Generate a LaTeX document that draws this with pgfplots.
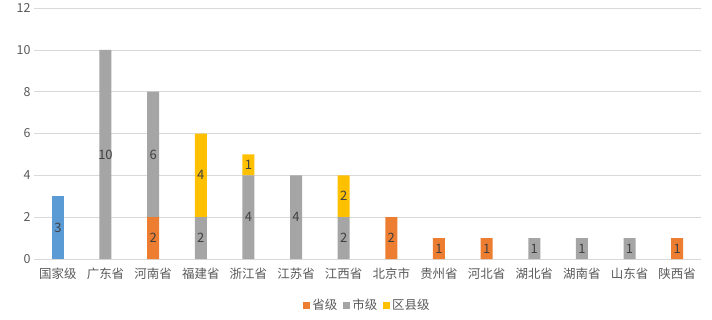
\documentclass[border=0pt]{standalone}
\usepackage{pgfplots}
\pgfplotsset{compat=1.18}
\usepackage{fontspec}
\setmainfont{Noto Sans CJK SC}
\definecolor{cblue}{HTML}{5B9BD5}
\definecolor{corange}{HTML}{ED7D31}
\definecolor{cgray}{HTML}{A5A5A5}
\definecolor{cyellow}{HTML}{FFC000}
\definecolor{ctext}{HTML}{595959}
\definecolor{clabel}{HTML}{404040}
\definecolor{cgrid}{HTML}{D9D9D9}
\begin{document}
\begin{tikzpicture}
\begin{axis}[
  name=ax,
  scale only axis,
  x=47.6bp, y=20.9bp,
  xmin=-0.5, xmax=13.5, ymin=0, ymax=12,
  ybar stacked, bar width=12bp,
  enlargelimits=false,
  axis lines*=left,
  y axis line style={draw=none},
  x axis line style={draw=cgrid, line width=0.8pt},
  ymajorgrids, grid style={draw=cgrid, line width=0.6pt},
  major tick length=0pt,
  ytick={0,2,4,6,8,10,12},
  xtick={0,...,13},
  xticklabels={国家级,广东省,河南省,福建省,浙江省,江苏省,江西省,北京市,贵州省,河北省,湖北省,湖南省,山东省,陕西省},
  /pgf/number format/assume math mode=true,
  tick label style={font=\fontsize{12.5}{14}\selectfont, text=ctext},
  xticklabel style={yshift=-5bp},
  yticklabel style={xshift=0bp},
  nodes near coords={\pgfmathfloatifflags{\pgfplotspointmeta}{0}{}{\pgfmathprintnumber{\pgfplotspointmeta}}},
  nodes near coords style={font=\fontsize{13}{14}\selectfont, text=clabel, anchor=center},
  legend columns=-1,
  legend style={draw=none, at={(0.5,-0.185)}, anchor=center, font=\fontsize{12.5}{14}\selectfont, text=ctext, /tikz/every even column/.append style={column sep=4bp}},
  legend image code/.code={\fill[#1] (0bp,-3.5bp) rectangle (7bp,3.5bp);},
]
\addplot[fill=corange, draw=none] coordinates {(0,0) (1,0) (2,2) (3,0) (4,0) (5,0) (6,0) (7,2) (8,1) (9,1) (10,0) (11,0) (12,0) (13,1)};
\addplot[fill=cgray, draw=none] coordinates {(0,0) (1,10) (2,6) (3,2) (4,4) (5,4) (6,2) (7,0) (8,0) (9,0) (10,1) (11,1) (12,1) (13,0)};
\addplot[fill=cyellow, draw=none] coordinates {(0,0) (1,0) (2,0) (3,4) (4,1) (5,0) (6,2) (7,0) (8,0) (9,0) (10,0) (11,0) (12,0) (13,0)};
\addplot[fill=cblue, draw=none] coordinates {(0,3) (1,0) (2,0) (3,0) (4,0) (5,0) (6,0) (7,0) (8,0) (9,0) (10,0) (11,0) (12,0) (13,0)};
\legend{省级,市级,区县级}
\end{axis}
\path[use as bounding box] ([xshift=-34bp,yshift=-60bp]ax.south west) rectangle ([xshift=11bp,yshift=8bp]ax.north east);
\end{tikzpicture}
\end{document}
